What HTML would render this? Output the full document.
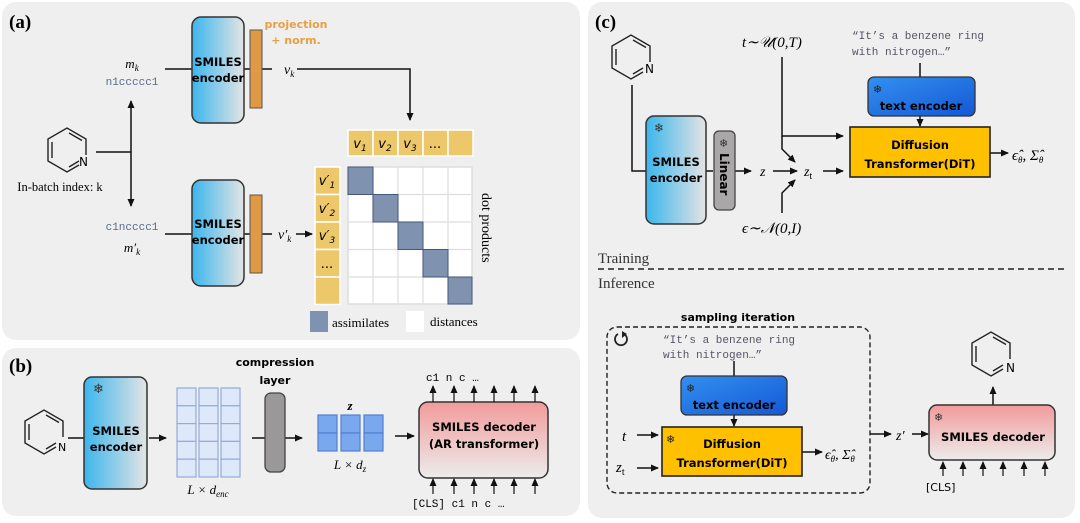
<!DOCTYPE html>
<html><head><meta charset="utf-8"><style>
html,body{margin:0;padding:0;background:#fff;}
svg{display:block;}
text{font-family:"DejaVu Sans","Liberation Sans",sans-serif;}
.ser{font-family:"Liberation Serif",serif;}
.mono{font-family:"Liberation Mono","DejaVu Sans Mono",monospace;}
.b{font-weight:bold;}
</style></head><body>
<svg width="1080" height="523" viewBox="0 0 1080 523" xmlns="http://www.w3.org/2000/svg">
<defs>
<linearGradient id="enc" x1="0" x2="1" y1="0" y2="0"><stop offset="0" stop-color="#3cb6ec"/><stop offset="1" stop-color="#e4e4e4"/></linearGradient>
<linearGradient id="dec" x1="0" x2="0" y1="0" y2="1"><stop offset="0" stop-color="#f29a9a"/><stop offset="1" stop-color="#ececec"/></linearGradient>
<linearGradient id="te" x1="0" x2="1" y1="0" y2="1"><stop offset="0" stop-color="#3390f0"/><stop offset="1" stop-color="#1458d6"/></linearGradient>
<marker id="ar" markerWidth="8" markerHeight="8" refX="7" refY="4" orient="auto" markerUnits="userSpaceOnUse"><path d="M0,0.5 L8,4 L0,7.5z" fill="#111"/></marker>
<g id="pyr" fill="none" stroke="#222" stroke-width="1.4">
<path d="M12,15 L0,22 L-19,11 L-19,-11 L0,-22 L19,-11 L19,5"/>
<path d="M2,-17 L15,-9.5 M-15,-8 L-15,8 M2,17 L12,11"/>
</g>
</defs>
<!-- panels -->
<rect x="2" y="2" width="578" height="338" rx="14" fill="#efefef"/>
<rect x="2" y="348" width="578" height="168" rx="14" fill="#efefef"/>
<rect x="588" y="2" width="487" height="516" rx="14" fill="#efefef"/>

<!-- (a) -->
<text x="9" y="28" class="ser b" font-size="19">(a)</text>
<g stroke="#111" stroke-width="1.5" fill="none">
<line x1="165" y1="69" x2="192" y2="69"/>
<line x1="244" y1="69" x2="250" y2="69"/>
<line x1="262" y1="69" x2="272" y2="69"/>
<polyline points="297,69 410,69 410,120" marker-end="url(#ar)"/>
<line x1="96" y1="152" x2="131" y2="152"/>
<line x1="131" y1="152" x2="131" y2="101" marker-end="url(#ar)"/>
<line x1="131" y1="152" x2="131" y2="206" marker-end="url(#ar)"/>
<line x1="165" y1="234" x2="192" y2="234"/>
<line x1="244" y1="234" x2="250" y2="234"/>
<line x1="262" y1="234" x2="272" y2="234"/>
<line x1="296" y1="234" x2="312" y2="234" marker-end="url(#ar)"/>
</g>
<rect x="192" y="17" width="52" height="106" rx="9" fill="url(#enc)" stroke="#333" stroke-width="1.5"/>
<text x="218" y="66" text-anchor="middle" font-size="11.5" class="b">SMILES</text>
<text x="218" y="82" text-anchor="middle" font-size="11.5" class="b">encoder</text>
<rect x="250" y="30" width="12" height="78" fill="#e09a45" stroke="#555"/>
<text x="296" y="28" text-anchor="middle" font-size="11" class="b" fill="#e8a040">projection</text>
<text x="296" y="44" text-anchor="middle" font-size="11" class="b" fill="#e8a040">+ norm.</text>
<text x="132" y="68" text-anchor="middle" class="ser" font-style="italic" font-size="13">m<tspan font-size="9" dy="3">k</tspan></text>
<text x="132" y="85" text-anchor="middle" class="mono" font-size="11" fill="#5a6a8a">n1ccccc1</text>
<text x="284" y="74" class="ser" font-style="italic" font-size="14">v<tspan font-size="9" dy="3">k</tspan></text>
<use href="#pyr" x="67" y="150"/>
<text x="79" y="166" font-size="12">N</text>
<text x="60" y="191" text-anchor="middle" class="ser" font-size="12.5">In-batch index: k</text>
<rect x="192" y="180" width="52" height="106" rx="9" fill="url(#enc)" stroke="#333" stroke-width="1.5"/>
<text x="218" y="228" text-anchor="middle" font-size="11.5" class="b">SMILES</text>
<text x="218" y="244" text-anchor="middle" font-size="11.5" class="b">encoder</text>
<rect x="250" y="195" width="12" height="78" fill="#e09a45" stroke="#555"/>
<text x="132" y="230" text-anchor="middle" class="mono" font-size="11" fill="#5a6a8a">c1ncccc1</text>
<text x="132" y="252" text-anchor="middle" class="ser" font-style="italic" font-size="13">m′<tspan font-size="9" dy="3">k</tspan></text>
<text x="278" y="239" class="ser" font-style="italic" font-size="14">v′<tspan font-size="9" dy="3">k</tspan></text>
<g fill="#edc86a" stroke="#fff" stroke-width="1.5">
<rect x="348" y="130" width="25" height="26"/><rect x="373" y="130" width="25" height="26"/><rect x="398" y="130" width="25" height="26"/><rect x="423" y="130" width="25" height="26"/><rect x="448" y="130" width="25" height="26"/>
<rect x="315" y="167" width="25" height="27.5"/><rect x="315" y="194.5" width="25" height="27.5"/><rect x="315" y="222" width="25" height="27.5"/><rect x="315" y="249.5" width="25" height="27.5"/><rect x="315" y="277" width="25" height="27.5"/>
</g>
<g class="ser" font-style="italic" font-size="13" text-anchor="middle">
<text x="360" y="148">v<tspan font-size="9" dy="3">1</tspan></text>
<text x="385" y="148">v<tspan font-size="9" dy="3">2</tspan></text>
<text x="410" y="148">v<tspan font-size="9" dy="3">3</tspan></text>
<text x="435" y="148" font-style="normal">...</text>
<text x="327" y="185">v′<tspan font-size="9" dy="3">1</tspan></text>
<text x="327" y="213">v′<tspan font-size="9" dy="3">2</tspan></text>
<text x="327" y="240">v′<tspan font-size="9" dy="3">3</tspan></text>
<text x="327" y="268" font-style="normal">...</text>
</g>
<rect x="348" y="167" width="124" height="137" stroke="#ddd" stroke-width="1.5" fill="#fff"/>
<g stroke="#ddd" stroke-width="1.2">
<line x1="373" y1="167" x2="373" y2="304"/><line x1="398" y1="167" x2="398" y2="304"/><line x1="423" y1="167" x2="423" y2="304"/><line x1="448" y1="167" x2="448" y2="304"/>
<line x1="348" y1="194.5" x2="472" y2="194.5"/><line x1="348" y1="222" x2="472" y2="222"/><line x1="348" y1="249.5" x2="472" y2="249.5"/><line x1="348" y1="277" x2="472" y2="277"/>
</g>
<g fill="#7f93b0" stroke="#44587a" stroke-width="1">
<rect x="348" y="167" width="25" height="27.5"/><rect x="373" y="194.5" width="25" height="27.5"/><rect x="398" y="222" width="25" height="27.5"/><rect x="423" y="249.5" width="25" height="27.5"/><rect x="448" y="277" width="24" height="27"/>
</g>
<text x="0" y="0" class="ser" font-size="14" transform="translate(482,193) rotate(90)">dot products</text>
<rect x="310" y="311" width="18" height="21" fill="#7f93b0"/>
<text x="332" y="327" class="ser" font-size="13">assimilates</text>
<rect x="406" y="311" width="18" height="21" fill="#fff"/>
<text x="430" y="326" class="ser" font-size="13">distances</text>

<!-- (b) -->
<text x="9" y="372" class="ser b" font-size="19">(b)</text>
<use href="#pyr" x="44" y="432"/>
<text x="58" y="451" font-size="11">N</text>
<g stroke="#111" stroke-width="1.5" fill="none">
<line x1="68" y1="438" x2="84" y2="438"/>
<line x1="149" y1="438" x2="166" y2="438" marker-end="url(#ar)"/>
<line x1="252" y1="438" x2="265" y2="438"/>
<line x1="285" y1="438" x2="302" y2="438" marker-end="url(#ar)"/>
<line x1="395" y1="436" x2="414" y2="436" marker-end="url(#ar)"/>
</g>
<rect x="84" y="377" width="63" height="112" rx="8" fill="url(#enc)" stroke="#333" stroke-width="1.5"/>
<text x="93" y="393" font-size="13" fill="#333">❄</text>
<text x="116" y="435" text-anchor="middle" font-size="11.5" class="b">SMILES</text>
<text x="116" y="451" text-anchor="middle" font-size="11.5" class="b">encoder</text>
<g fill="#dde9fb" stroke="#93acd9" stroke-width="1.2">
<rect x="177" y="388" width="19" height="17.8"/><rect x="177" y="405.8" width="19" height="17.8"/><rect x="177" y="423.6" width="19" height="17.8"/><rect x="177" y="441.4" width="19" height="17.8"/><rect x="177" y="459.2" width="19" height="17.8"/>
<rect x="199" y="388" width="19" height="17.8"/><rect x="199" y="405.8" width="19" height="17.8"/><rect x="199" y="423.6" width="19" height="17.8"/><rect x="199" y="441.4" width="19" height="17.8"/><rect x="199" y="459.2" width="19" height="17.8"/>
<rect x="221" y="388" width="19" height="17.8"/><rect x="221" y="405.8" width="19" height="17.8"/><rect x="221" y="423.6" width="19" height="17.8"/><rect x="221" y="441.4" width="19" height="17.8"/><rect x="221" y="459.2" width="19" height="17.8"/>
</g>
<text x="208" y="494" text-anchor="middle" class="ser" font-style="italic" font-size="13">L × d<tspan font-size="9" dy="3">enc</tspan></text>
<text x="275" y="366" text-anchor="middle" font-size="11" class="b">compression</text>
<text x="275" y="384" text-anchor="middle" font-size="11" class="b">layer</text>
<rect x="265" y="393" width="20" height="79" rx="6" fill="#9a9898" stroke="#444" stroke-width="1.3"/>
<g fill="#7aa8ee" stroke="#4f7fcf" stroke-width="1.2">
<rect x="318" y="415" width="19" height="18"/><rect x="318" y="433" width="19" height="18"/>
<rect x="341" y="415" width="19" height="18"/><rect x="341" y="433" width="19" height="18"/>
<rect x="364" y="415" width="19" height="18"/><rect x="364" y="433" width="19" height="18"/>
</g>
<text x="350" y="410" text-anchor="middle" class="ser b" font-style="italic" font-size="13">z</text>
<text x="350" y="469" text-anchor="middle" class="ser" font-style="italic" font-size="13">L × d<tspan font-size="9" dy="3">z</tspan></text>
<rect x="419" y="402" width="129" height="76" rx="9" fill="url(#dec)" stroke="#333" stroke-width="1.5"/>
<text x="484" y="431" text-anchor="middle" font-size="11.5" class="b">SMILES decoder</text>
<text x="484" y="448" text-anchor="middle" font-size="11.5" class="b">(AR transformer)</text>
<g stroke="#111" stroke-width="1.2" fill="none">
<line x1="433" y1="402" x2="433" y2="386" marker-end="url(#ar)"/><line x1="454" y1="402" x2="454" y2="386" marker-end="url(#ar)"/><line x1="474" y1="402" x2="474" y2="386" marker-end="url(#ar)"/><line x1="494" y1="402" x2="494" y2="386" marker-end="url(#ar)"/><line x1="514" y1="402" x2="514" y2="386" marker-end="url(#ar)"/><line x1="535" y1="402" x2="535" y2="386" marker-end="url(#ar)"/>
<line x1="433" y1="494" x2="433" y2="479" marker-end="url(#ar)"/><line x1="454" y1="494" x2="454" y2="479" marker-end="url(#ar)"/><line x1="474" y1="494" x2="474" y2="479" marker-end="url(#ar)"/><line x1="494" y1="494" x2="494" y2="479" marker-end="url(#ar)"/><line x1="514" y1="494" x2="514" y2="479" marker-end="url(#ar)"/><line x1="535" y1="494" x2="535" y2="479" marker-end="url(#ar)"/>
</g>
<text x="426" y="381" class="mono" font-size="11">c1 n  c  …</text>
<text x="412" y="507" class="mono" font-size="11">[CLS] c1 n  c  …</text>

<!-- (c) training -->
<text x="595" y="28" class="ser b" font-size="19">(c)</text>
<use href="#pyr" x="631" y="57"/>
<text x="645" y="73" font-size="12">N</text>
<g stroke="#111" stroke-width="1.5" fill="none">
<polyline points="632,85 632,171 646,171"/>
<line x1="706" y1="171" x2="713" y2="171"/>
<line x1="735" y1="171" x2="751" y2="171" marker-end="url(#ar)"/>
<line x1="773" y1="171" x2="797" y2="171" marker-end="url(#ar)"/>
<line x1="823" y1="171" x2="843" y2="171" marker-end="url(#ar)"/>
<polyline points="782,57 782,136 843,136" marker-end="url(#ar)"/>
<polyline points="782,136 782,149 795,162" marker-end="url(#ar)"/>
<polyline points="782,213 782,193 795,180" marker-end="url(#ar)"/>
<line x1="920" y1="63" x2="920" y2="77"/>
<line x1="920" y1="116" x2="920" y2="126" marker-end="url(#ar)"/>
<line x1="990" y1="153" x2="1008" y2="153" marker-end="url(#ar)"/>
</g>
<rect x="646" y="116" width="60" height="108" rx="8" fill="url(#enc)" stroke="#333" stroke-width="1.5"/>
<text x="654" y="132" font-size="12" fill="#333">❄</text>
<text x="676" y="166" text-anchor="middle" font-size="11.5" class="b">SMILES</text>
<text x="676" y="182" text-anchor="middle" font-size="11.5" class="b">encoder</text>
<rect x="714" y="131" width="21" height="79" rx="5" fill="#a9a7a7" stroke="#444" stroke-width="1.3"/>
<text x="719" y="147" font-size="11" fill="#333">❄</text>
<text x="0" y="0" font-size="12" class="b" transform="translate(720,153) rotate(90)">Linear</text>
<text x="760" y="176" class="ser" font-style="italic" font-size="14">z</text>
<text x="804" y="176" class="ser" font-style="italic" font-size="14">z<tspan font-style="normal" font-size="10" dy="3">t</tspan></text>
<text x="742" y="47" class="ser" font-style="italic" font-size="15">t∼𝒰(0,T)</text>
<text x="742" y="233" class="ser" font-style="italic" font-size="15">ϵ∼𝒩(0,I)</text>
<text x="852" y="39" class="mono" font-size="11" fill="#556">“It’s a benzene ring</text>
<text x="852" y="55" class="mono" font-size="11" fill="#556">with nitrogen…”</text>
<rect x="868" y="77" width="107" height="39" rx="6" fill="url(#te)" stroke="#333" stroke-width="1.3"/>
<text x="873" y="93" font-size="11" fill="#222">❄</text>
<text x="921" y="110" text-anchor="middle" font-size="11.5" class="b">text encoder</text>
<rect x="850" y="127" width="140" height="50" fill="#ffc000" stroke="#222" stroke-width="1.6"/>
<text x="920" y="149" text-anchor="middle" font-size="11.5" class="b">Diffusion</text>
<text x="920" y="168" text-anchor="middle" font-size="11.5" class="b">Transformer(DiT)</text>
<text x="1012" y="160" class="ser" font-style="italic" font-size="15">ϵ̂<tspan font-size="9" dy="3">θ</tspan><tspan dy="-3">, Σ̂</tspan><tspan font-size="9" dy="3">θ</tspan></text>
<text x="598" y="263" class="ser" font-size="15" fill="#333">Training</text>
<line x1="598" y1="269" x2="1065" y2="269" stroke="#555" stroke-width="2" stroke-dasharray="6,4"/>
<text x="598" y="288" class="ser" font-size="15" fill="#333">Inference</text>

<!-- (c) inference -->
<rect x="607" y="327" width="263" height="166" rx="10" fill="none" stroke="#222" stroke-width="1.4" stroke-dasharray="5,3"/>
<text x="738" y="321" text-anchor="middle" font-size="11" class="b">sampling iteration</text>
<path d="M624,334 A6,6 0 1 1 618,334" fill="none" stroke="#222" stroke-width="1.8"/>
<path d="M622,331 L627,334 L622,338z" fill="#222"/>
<text x="663" y="343" class="mono" font-size="11" fill="#556">“It’s a benzene ring</text>
<text x="663" y="358" class="mono" font-size="11" fill="#556">with nitrogen…”</text>
<g stroke="#111" stroke-width="1.5" fill="none">
<line x1="734" y1="361" x2="734" y2="376"/>
<line x1="734" y1="415" x2="734" y2="426" marker-end="url(#ar)"/>
<line x1="637" y1="435" x2="658" y2="435" marker-end="url(#ar)"/>
<line x1="637" y1="468" x2="658" y2="468" marker-end="url(#ar)"/>
<line x1="802" y1="452" x2="822" y2="452" marker-end="url(#ar)"/>
<line x1="870" y1="434" x2="891" y2="434" marker-end="url(#ar)"/>
<line x1="912" y1="434" x2="928" y2="434" marker-end="url(#ar)"/>
<line x1="993" y1="405" x2="993" y2="387" marker-end="url(#ar)"/>
</g>
<g stroke="#111" stroke-width="1.2" fill="none">
<line x1="943" y1="476" x2="943" y2="462" marker-end="url(#ar)"/><line x1="963" y1="476" x2="963" y2="462" marker-end="url(#ar)"/><line x1="983" y1="476" x2="983" y2="462" marker-end="url(#ar)"/><line x1="1003" y1="476" x2="1003" y2="462" marker-end="url(#ar)"/><line x1="1024" y1="476" x2="1024" y2="462" marker-end="url(#ar)"/><line x1="1045" y1="476" x2="1045" y2="462" marker-end="url(#ar)"/>
</g>
<rect x="681" y="376" width="106" height="39" rx="6" fill="url(#te)" stroke="#333" stroke-width="1.3"/>
<text x="686" y="392" font-size="11" fill="#222">❄</text>
<text x="734" y="409" text-anchor="middle" font-size="11.5" class="b">text encoder</text>
<rect x="662" y="427" width="140" height="49" fill="#ffc000" stroke="#222" stroke-width="1.6"/>
<text x="666" y="443" font-size="11" fill="#222">❄</text>
<text x="732" y="448" text-anchor="middle" font-size="11.5" class="b">Diffusion</text>
<text x="732" y="467" text-anchor="middle" font-size="11.5" class="b">Transformer(DiT)</text>
<text x="622" y="441" class="ser" font-style="italic" font-size="15">t</text>
<text x="616" y="472" class="ser" font-style="italic" font-size="15">z<tspan font-style="normal" font-size="10" dy="3">t</tspan></text>
<text x="825" y="459" class="ser" font-style="italic" font-size="14">ϵ̂<tspan font-size="9" dy="3">θ</tspan><tspan dy="-3">, Σ̂</tspan><tspan font-size="9" dy="3">θ</tspan></text>
<text x="896" y="440" class="ser" font-style="italic" font-size="14">z′</text>
<rect x="929" y="405" width="126" height="55" rx="8" fill="url(#dec)" stroke="#333" stroke-width="1.5"/>
<text x="934" y="421" font-size="11" fill="#333">❄</text>
<text x="993" y="441" text-anchor="middle" font-size="11.5" class="b">SMILES decoder</text>
<text x="926" y="491" font-size="11">[CLS]</text>
<use href="#pyr" x="991" y="354"/>
<text x="1006" y="372" font-size="12">N</text>
</svg>
</body></html>
